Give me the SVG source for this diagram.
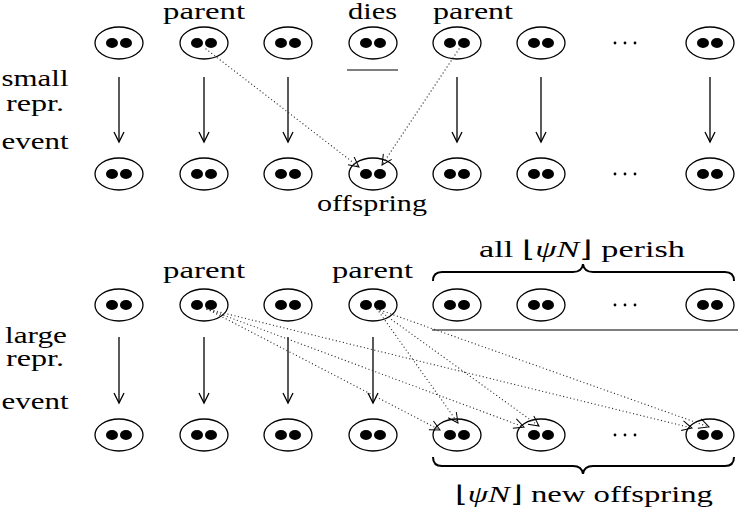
<svg xmlns="http://www.w3.org/2000/svg" width="738" height="514" viewBox="0 0 738 514">
<style>
.lbl{font-family:"Liberation Serif","Times New Roman",serif;font-size:23px;fill:#000}
.o{fill:#fff;stroke:#000;stroke-width:1.3}
.d{fill:#000;stroke:none}
.solid{stroke:#000;stroke-width:1.3;fill:none;marker-end:url(#vh)}
.dot{stroke:#333;stroke-width:1.3;fill:none;stroke-dasharray:0 3.6;stroke-linecap:round;marker-end:url(#vh2)}
.ell circle{fill:#000}
.rule{stroke:#000;stroke-width:1.2}
.brace{stroke:#000;stroke-width:2;fill:none}
</style>
<defs>
<marker id="vh" markerUnits="userSpaceOnUse" markerWidth="14" markerHeight="14" viewBox="-11 -7 13 14" refX="0" refY="0" orient="auto" overflow="visible">
<path d="M-10,-5 L0,0 L-10,5" fill="none" stroke="#000" stroke-width="1.3"/>
</marker>
<marker id="vh2" markerUnits="userSpaceOnUse" markerWidth="14" markerHeight="14" viewBox="-11 -7 13 14" refX="0" refY="0" orient="auto" overflow="visible">
<path d="M-10,-5 L0,0 L-10,5" fill="none" stroke="#000" stroke-width="1"/>
</marker>
<g id="ind">
<ellipse class="o" cx="0" cy="0" rx="24" ry="16"/>
<ellipse class="d" cx="-7" cy="0" rx="6" ry="5"/>
<ellipse class="d" cx="7" cy="0" rx="6" ry="5"/>
</g>
</defs>

<!-- labels -->
<g id="labels">
<text class="lbl" x="204" y="19" text-anchor="middle" textLength="82" lengthAdjust="spacingAndGlyphs">parent</text>
<text class="lbl" x="372.5" y="19" text-anchor="middle" textLength="49" lengthAdjust="spacingAndGlyphs">dies</text>
<text class="lbl" x="473" y="19" text-anchor="middle" textLength="80" lengthAdjust="spacingAndGlyphs">parent</text>
<text class="lbl" x="35" y="86" text-anchor="middle" textLength="67" lengthAdjust="spacingAndGlyphs">small</text>
<text class="lbl" x="35" y="111" text-anchor="middle" textLength="58" lengthAdjust="spacingAndGlyphs">repr.</text>
<text class="lbl" x="35" y="149" text-anchor="middle" textLength="67" lengthAdjust="spacingAndGlyphs">event</text>
<text class="lbl" x="372" y="211" text-anchor="middle" textLength="110" lengthAdjust="spacingAndGlyphs">offspring</text>
<text class="lbl" x="204" y="278" text-anchor="middle" textLength="82" lengthAdjust="spacingAndGlyphs">parent</text>
<text class="lbl" x="372.5" y="278" text-anchor="middle" textLength="81" lengthAdjust="spacingAndGlyphs">parent</text>
<text class="lbl" x="36" y="343" text-anchor="middle" textLength="62" lengthAdjust="spacingAndGlyphs">large</text>
<text class="lbl" x="35" y="366" text-anchor="middle" textLength="58" lengthAdjust="spacingAndGlyphs">repr.</text>
<text class="lbl" x="35" y="409" text-anchor="middle" textLength="67" lengthAdjust="spacingAndGlyphs">event</text>
<text class="lbl" x="582" y="257" text-anchor="middle" textLength="206" lengthAdjust="spacingAndGlyphs">all ⌊<tspan font-style="italic">ψN</tspan>⌋ perish</text>
<text class="lbl" x="584" y="502" text-anchor="middle" textLength="258" lengthAdjust="spacingAndGlyphs">⌊<tspan font-style="italic">ψN</tspan>⌋ new offspring</text>
</g>

<!-- decorations -->
<g id="marks">
<line class="rule" x1="347" y1="70" x2="398" y2="70"/>
<line class="rule" x1="432" y1="330" x2="738" y2="330"/>
<path class="brace" d="M433,281 Q433,272 442,272 L573,272 Q582,272 583,264 Q584,272 593,272 L725,272 Q734,272 734,281"/>
<path class="brace" d="M433,457 Q433,466 442,466 L573,466 Q582,466 583,474 Q584,466 593,466 L725,466 Q734,466 734,457"/>
<g class="ell"><circle cx="615" cy="43" r="1.4"/><circle cx="625" cy="43" r="1.4"/><circle cx="635" cy="43" r="1.4"/></g>
<g class="ell"><circle cx="615" cy="174" r="1.4"/><circle cx="625" cy="174" r="1.4"/><circle cx="635" cy="174" r="1.4"/></g>
<g class="ell"><circle cx="615" cy="305" r="1.4"/><circle cx="625" cy="305" r="1.4"/><circle cx="635" cy="305" r="1.4"/></g>
<g class="ell"><circle cx="615" cy="435" r="1.4"/><circle cx="625" cy="435" r="1.4"/><circle cx="635" cy="435" r="1.4"/></g>
</g>

<!-- nodes -->
<g id="row1">
<g id="a1" class="node"><use href="#ind" x="119" y="43"/></g>
<g id="a2" class="node"><use href="#ind" x="204" y="43"/></g>
<g id="a3" class="node"><use href="#ind" x="288" y="43"/></g>
<g id="a4" class="node"><use href="#ind" x="373" y="43"/></g>
<g id="a5" class="node"><use href="#ind" x="457" y="43"/></g>
<g id="a6" class="node"><use href="#ind" x="541" y="43"/></g>
<g id="a7" class="node"><use href="#ind" x="710" y="43"/></g>
</g>
<g id="row2">
<g id="b1" class="node"><use href="#ind" x="119" y="174"/></g>
<g id="b2" class="node"><use href="#ind" x="204" y="174"/></g>
<g id="b3" class="node"><use href="#ind" x="288" y="174"/></g>
<g id="b4" class="node"><use href="#ind" x="373" y="174"/></g>
<g id="b5" class="node"><use href="#ind" x="457" y="174"/></g>
<g id="b6" class="node"><use href="#ind" x="541" y="174"/></g>
<g id="b7" class="node"><use href="#ind" x="710" y="174"/></g>
</g>
<g id="row3">
<g id="c1" class="node"><use href="#ind" x="119" y="305"/></g>
<g id="c2" class="node"><use href="#ind" x="204" y="305"/></g>
<g id="c3" class="node"><use href="#ind" x="288" y="305"/></g>
<g id="c4" class="node"><use href="#ind" x="373" y="305"/></g>
<g id="c5" class="node"><use href="#ind" x="457" y="305"/></g>
<g id="c6" class="node"><use href="#ind" x="541" y="305"/></g>
<g id="c7" class="node"><use href="#ind" x="710" y="305"/></g>
</g>
<g id="row4">
<g id="d1" class="node"><use href="#ind" x="119" y="435"/></g>
<g id="d2" class="node"><use href="#ind" x="204" y="435"/></g>
<g id="d3" class="node"><use href="#ind" x="288" y="435"/></g>
<g id="d4" class="node"><use href="#ind" x="373" y="435"/></g>
<g id="d5" class="node"><use href="#ind" x="457" y="435"/></g>
<g id="d6" class="node"><use href="#ind" x="541" y="435"/></g>
<g id="d7" class="node"><use href="#ind" x="710" y="435"/></g>
</g>

<!-- connectors -->
<g id="connectors">
<line class="solid" x1="119" y1="77" x2="119" y2="142"/>
<line class="solid" x1="204" y1="77" x2="204" y2="142"/>
<line class="solid" x1="288" y1="77" x2="288" y2="142"/>
<line class="solid" x1="457" y1="77" x2="457" y2="142"/>
<line class="solid" x1="541" y1="77" x2="541" y2="142"/>
<line class="solid" x1="710" y1="77" x2="710" y2="142"/>
<line class="solid" x1="119" y1="337" x2="119" y2="403"/>
<line class="solid" x1="204" y1="337" x2="204" y2="403"/>
<line class="solid" x1="288" y1="337" x2="288" y2="403"/>
<line class="solid" x1="373" y1="337" x2="373" y2="403"/>
<line class="dot" x1="206" y1="49" x2="359" y2="167"/>
<line class="dot" x1="459" y1="49" x2="382" y2="165"/>
<line class="dot" x1="207" y1="309" x2="440" y2="430"/>
<line class="dot" x1="207" y1="309" x2="524" y2="427"/>
<line class="dot" x1="207" y1="309" x2="692" y2="428"/>
<line class="dot" x1="377" y1="309" x2="458" y2="423"/>
<line class="dot" x1="377" y1="309" x2="539" y2="426"/>
<line class="dot" x1="377" y1="309" x2="709" y2="427"/>
</g>
</svg>
